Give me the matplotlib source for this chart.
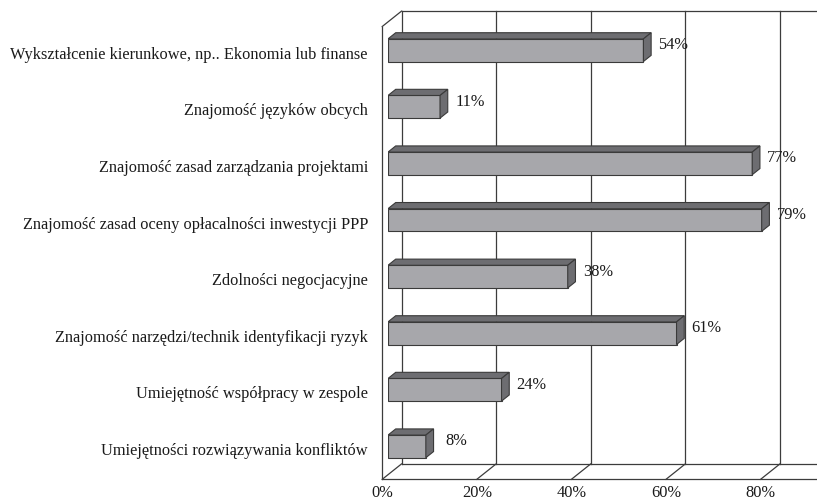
import numpy as np
import matplotlib
matplotlib.use("Agg")
import matplotlib.pyplot as plt
from matplotlib.patches import Polygon

# data
categories = [
    "Wykształcenie kierunkowe, np.. Ekonomia lub finanse",
    "Znajomość języków obcych",
    "Znajomość zasad zarządzania projektami",
    "Znajomość zasad oceny opłacalności inwestycji PPP",
    "Zdolności negocjacyjne",
    "Znajomość narzędzi/technik identyfikacji ryzyk",
    "Umiejętność współpracy w zespole",
    "Umiejętności rozwiązywania konfliktów",
]
values = [54, 11, 77, 79, 38, 61, 24, 8]
ticks = [0, 20, 40, 60, 80, 100]
tick_labels = ["0%", "20%", "40%", "60%", "80%"]

plt.rcParams["font.family"] = ["Liberation Serif", "DejaVu Serif"]
FS = 11.8
LINE = "#3c3c3c"
TXT = "#1a1a1a"

fig = plt.figure(figsize=(8.17, 5.04), dpi=100)
# axes = plane of the bars' front faces
ax = fig.add_axes([388 / 817, (504 - 474.7) / 504, 473 / 817, 452.8 / 504])
ax.set_xlim(0, 100)
ax.set_ylim(len(categories) - 0.5, -0.5)
ax.axis("off")

# 3D depth vector (pixels, screen up positive); bars sit between depth 0.3 and 0.7
DX, DY = 19.3, 15.4
BAR_D0, BAR_D1 = 0.3, 0.7


def shift(xs, ys, d):
    pts = ax.transData.transform(np.column_stack([xs, ys]).astype(float))
    pts += np.array([DX, DY]) * (d - BAR_D0)
    return ax.transData.inverted().transform(pts)


def seg(x0, y0, d0, x1, y1, d1):
    a = shift([x0], [y0], d0)[0]
    b = shift([x1], [y1], d1)[0]
    ax.plot([a[0], b[0]], [a[1], b[1]], color=LINE, lw=0.9, clip_on=False, zorder=1)


ybot, ytop = len(categories) - 0.5, -0.5
xmax = ticks[-1]

# back wall gridlines and floor diagonals
for t in ticks:
    seg(t, ybot, 1.0, t, ytop, 1.0)
    seg(t, ybot, 0.0, t, ybot, 1.0)
seg(0, ytop, 1.0, xmax, ytop, 1.0)
seg(0, ybot, 1.0, xmax, ybot, 1.0)
seg(0, ybot, 0.0, xmax, ybot, 0.0)
seg(0, ybot, 0.0, 0, ytop, 0.0)
seg(0, ytop, 0.0, 0, ytop, 1.0)

# bars
h = 0.40
FRONT = "#a7a7ab"
DARK = "#6d6d71"
EDGE = "#3a3a3a"
ypos = np.arange(len(categories))
ax.barh(ypos, values, height=h, color=FRONT, edgecolor=EDGE, lw=0.8, zorder=3)
for y, v in zip(ypos, values):
    tb = shift([0, v], [y - h / 2, y - h / 2], BAR_D1)
    top = Polygon([[0, y - h / 2], [v, y - h / 2], tb[1], tb[0]], closed=True,
                  facecolor=DARK, edgecolor=EDGE, lw=0.8, zorder=3)
    ax.add_patch(top)
    sb = shift([v, v], [y - h / 2, y + h / 2], BAR_D1)
    side = Polygon([[v, y - h / 2], sb[0], sb[1], [v, y + h / 2]], closed=True,
                   facecolor=DARK, edgecolor=EDGE, lw=0.8, zorder=3)
    ax.add_patch(side)
    ax.annotate(f"{v}%", xy=(v, y), xytext=(30, 5), textcoords="offset pixels",
                ha="center", va="center", fontsize=FS, color=TXT, zorder=4)

# category labels (front plane)
for y, c in zip(ypos, categories):
    ax.annotate(c, xy=(0, y), xytext=(-20, -4.6), textcoords="offset pixels",
                ha="right", va="center", fontsize=FS, color=TXT,
                annotation_clip=False)

# x tick labels on floor front edge
for t, lab in zip(ticks, tick_labels):
    ax.annotate(lab, xy=(t, ybot), xytext=(-5.8, -18.5), textcoords="offset pixels",
                ha="center", va="center", fontsize=FS, color=TXT,
                annotation_clip=False)

fig.savefig("out.png", dpi=100)
